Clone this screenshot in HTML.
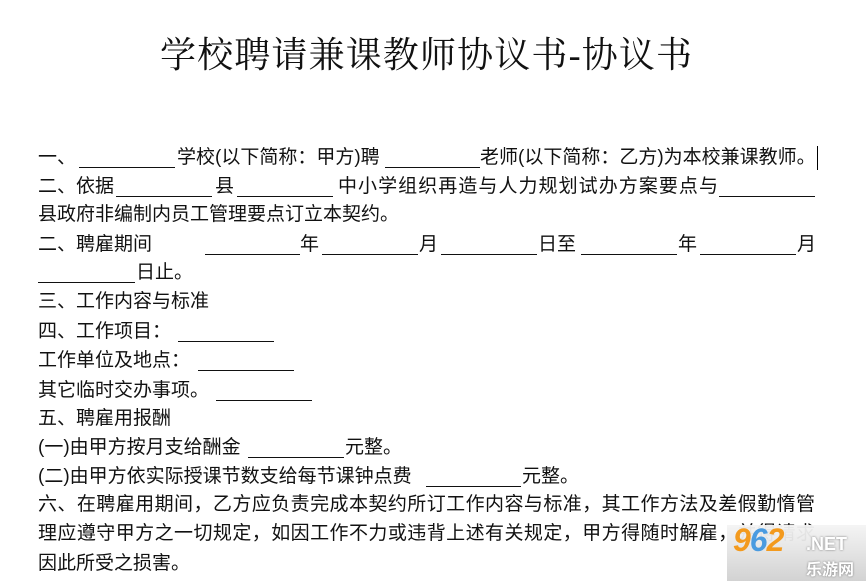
<!DOCTYPE html>
<html><head><meta charset="utf-8"><style>
body{margin:0;width:866px;height:581px;background:#fff;position:relative;overflow:hidden;font-family:"Liberation Sans","Noto Sans CJK SC",sans-serif;color:#111}
.t{position:absolute;left:160px;top:30px;width:532px;font-size:36px;line-height:50px;font-family:"Liberation Serif","Noto Serif CJK SC",serif;font-weight:400;text-align-last:justify;white-space:nowrap}
.s{position:absolute;font-size:19px;line-height:29px;white-space:nowrap}
.b{position:absolute;height:0;border-bottom:1px solid #111}
.j{position:absolute;left:38px;width:777px;font-size:19px;line-height:29px;text-align-last:justify;white-space:nowrap}
</style></head><body>
<div class="t">学校聘请兼课教师协议书-协议书</div>

<div class="s" style="left:38px;top:143px">一、</div>
<div class="b" style="left:79px;width:96px;top:167px"></div>
<div class="s" style="left:177px;top:143px">学校(以下简称：甲方)聘</div>
<div class="b" style="left:385px;width:95px;top:167px"></div>
<div class="s" style="left:480px;top:143px">老师(以下简称：乙方)为本校兼课教师。</div>
<div style="position:absolute;left:817px;top:146px;width:1px;height:24px;background:#000"></div>

<div class="s" style="left:38px;top:172px">二、依据</div>
<div class="b" style="left:116px;width:96px;top:196px"></div>
<div class="s" style="left:215px;top:172px">县</div>
<div class="b" style="left:237px;width:96px;top:196px"></div>
<div class="s" style="left:338px;top:172px;width:380px;text-align-last:justify">中小学组织再造与人力规划试办方案要点与</div>
<div class="b" style="left:719px;width:96px;top:196px"></div>

<div class="s" style="left:38px;top:200px">县政府非编制内员工管理要点订立本契约。</div>

<div class="s" style="left:38px;top:230px">二、聘雇期间</div>
<div class="b" style="left:205px;width:95px;top:254px"></div>
<div class="s" style="left:300px;top:230px">年</div>
<div class="b" style="left:322px;width:96px;top:254px"></div>
<div class="s" style="left:419px;top:230px">月</div>
<div class="b" style="left:441px;width:96px;top:254px"></div>
<div class="s" style="left:538px;top:230px">日至</div>
<div class="b" style="left:581px;width:96px;top:254px"></div>
<div class="s" style="left:678px;top:230px">年</div>
<div class="b" style="left:700px;width:96px;top:254px"></div>
<div class="s" style="left:797px;top:230px">月</div>

<div class="b" style="left:38px;width:97px;top:282px"></div>
<div class="s" style="left:136px;top:258px">日止。</div>

<div class="s" style="left:38px;top:287px">三、工作内容与标准</div>
<div class="s" style="left:38px;top:317px">四、工作项目：</div>
<div class="b" style="left:178px;width:96px;top:341px"></div>
<div class="s" style="left:38px;top:346px">工作单位及地点：</div>
<div class="b" style="left:198px;width:96px;top:370px"></div>
<div class="s" style="left:38px;top:376px">其它临时交办事项。</div>
<div class="b" style="left:216px;width:96px;top:400px"></div>
<div class="s" style="left:38px;top:404px">五、聘雇用报酬</div>
<div class="s" style="left:38px;top:433px">(一)由甲方按月支给酬金</div>
<div class="b" style="left:248px;width:96px;top:457px"></div>
<div class="s" style="left:345px;top:433px">元整。</div>
<div class="s" style="left:38px;top:462px">(二)由甲方依实际授课节数支给每节课钟点费</div>
<div class="b" style="left:426px;width:95px;top:486px"></div>
<div class="s" style="left:522px;top:462px">元整。</div>

<div class="j" style="top:490px">六、在聘雇用期间，乙方应负责完成本契约所订工作内容与标准，其工作方法及差假勤惰管</div>
<div class="j" style="top:519px">理应遵守甲方之一切规定，如因工作不力或违背上述有关规定，甲方得随时解雇，并得请求</div>
<div class="s" style="left:38px;top:549px">因此所受之损害。</div>

<div style="position:absolute;left:727px;top:525px;width:139px;height:56px;background:linear-gradient(#f4f4f4,#d0d0d0);opacity:.95"></div>
<div style="position:absolute;left:733px;top:522px;font:italic bold 32px 'Liberation Sans',sans-serif;letter-spacing:-1px"><span style="color:#f39a1e">9</span><span style="color:#4a9be0">6</span><span style="color:#f39a1e">2</span></div>
<div style="position:absolute;left:806px;top:534px;font:bold 18px 'Liberation Sans',sans-serif;color:#fff;text-shadow:0 0 2px #777">.NET</div>
<div style="position:absolute;left:806px;top:556px;font:bold 16px 'Liberation Sans','Noto Sans CJK SC',sans-serif;color:#fff;text-shadow:0 0 2px #777">乐游网</div>
</body></html>
